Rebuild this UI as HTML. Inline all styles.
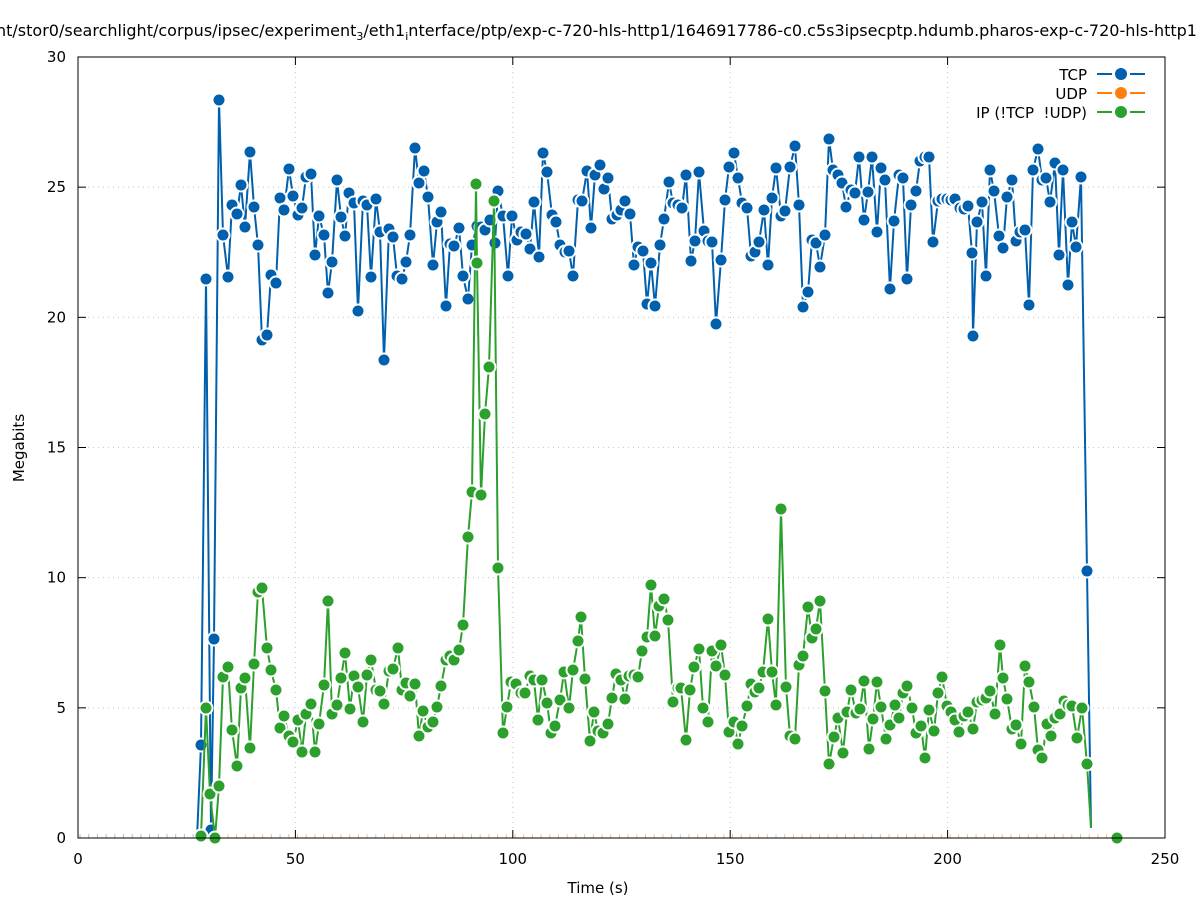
<!DOCTYPE html>
<html><head><meta charset="utf-8"><style>
html,body{margin:0;padding:0;background:#fff;width:1197px;height:900px;overflow:hidden}
svg{display:block;font-family:"DejaVu Sans","Liberation Sans",sans-serif}
</style></head><body>
<svg id="s" width="1197" height="900" viewBox="0 0 1197 900" xmlns="http://www.w3.org/2000/svg">
<rect width="1197" height="900" fill="#fff"/>
<g id="grid" stroke="#c8c8c8" stroke-width="1" stroke-dasharray="1,4"></g>
<g id="ticks" stroke="#000" stroke-width="1"></g>
<g id="labels" font-size="15" fill="#000"></g>
<text x="-4" y="36" font-size="16" fill="#000">nt/stor0/searchlight/corpus/ipsec/experiment<tspan font-size="11" dy="4">3</tspan><tspan dy="-4">/eth1</tspan><tspan font-size="11" dy="4">i</tspan><tspan dy="-4">nterface/ptp/exp-c-720-hls-http1/1646917786-c0.c5s3ipsecptp.hdumb.pharos-exp-c-720-hls-http1.</tspan></text>
<text x="598" y="893" font-size="15" text-anchor="middle">Time (s)</text>
<text transform="translate(24,448) rotate(-90)" font-size="15" text-anchor="middle">Megabits</text>
<g id="udp"></g>
<g id="series"></g>
<rect x="78" y="57" width="1087" height="781" fill="none" stroke="#000" stroke-width="1"/>
<g font-size="15" text-anchor="end">
<text x="1087" y="80">TCP</text>
<text x="1087" y="99">UDP</text>
<text x="1087" y="118">IP (!TCP &#160;!UDP)</text>
</g>
<g stroke-width="2">
<line x1="1097" y1="74" x2="1112" y2="74" stroke="#0060ad"/><line x1="1130" y1="74" x2="1145" y2="74" stroke="#0060ad"/>
<line x1="1097" y1="93" x2="1112" y2="93" stroke="#ff7f0e"/><line x1="1130" y1="93" x2="1145" y2="93" stroke="#ff7f0e"/>
<line x1="1097" y1="112" x2="1112" y2="112" stroke="#2ca02c"/><line x1="1130" y1="112" x2="1145" y2="112" stroke="#2ca02c"/>
</g>
<circle cx="1121" cy="74" r="6" fill="#0060ad"/>
<circle cx="1121" cy="93" r="6" fill="#ff7f0e"/>
<circle cx="1121" cy="112" r="6" fill="#2ca02c"/>
</svg>
<script>
const NS="http://www.w3.org/2000/svg";
function el(p,t,a){const e=document.createElementNS(NS,t);for(const k in a)e.setAttribute(k,a[k]);p.appendChild(e);return e;}
const g=document.getElementById('grid'),tk=document.getElementById('ticks'),lb=document.getElementById('labels');
for(let i=0;i<=5;i++){const x=78+i*217.4;
 if(i>0&&i<5)el(g,'line',{x1:x,y1:57,x2:x,y2:838});
 el(tk,'line',{x1:x,y1:838,x2:x,y2:830});el(tk,'line',{x1:x,y1:57,x2:x,y2:65});
 const t=el(lb,'text',{x:x,y:864,'text-anchor':'middle'});t.textContent=i*50;}
for(let i=0;i<=6;i++){const y=838-i*130.17;
 if(i>0&&i<6)el(g,'line',{x1:78,y1:y,x2:1165,y2:y});
 el(tk,'line',{x1:78,y1:y,x2:86,y2:y});el(tk,'line',{x1:1165,y1:y,x2:1157,y2:y});
 const t=el(lb,'text',{x:66,y:y+5,'text-anchor':'end'});t.textContent=i*5;}
const ud=document.getElementById('udp');
for(let x=80;x<1120;x+=8.7){el(ud,'line',{x1:x,y1:834,x2:x,y2:838,stroke:x<200?'#9ccf9c':'#ffbf80','stroke-width':1});}
const tcp=[[197,838],[201,745],[206,279],[211,830],[214,639],[219,100],[223,235],[228,277],[232,205],[237,214],[241,185],[245,227],[250,152],[254,207],[258,245],[262,340],[267,335],[271,275],[276,283],[280,198],[284,210],[289,169],[293,196],[298,215],[302,208],[306,177],[311,174],[315,255],[319,216],[324,235],[328,293],[332,262],[337,180],[341,217],[345,236],[349,193],[354,203],[358,311],[363,201],[367,205],[371,277],[376,199],[380,232],[384,360],[389,229],[393,237],[397,276],[402,279],[406,262],[410,235],[415,148],[419,183],[424,171],[428,197],[433,265],[437,222],[441,212],[446,306],[450,244],[454,246],[459,228],[463,276],[468,299],[472,245],[477,226],[481,227],[485,230],[490,220],[495,243],[498,191],[503,216],[508,276],[512,216],[517,240],[521,232],[526,234],[530,249],[534,202],[539,257],[543,153],[547,172],[552,215],[556,222],[560,245],[565,252],[569,251],[573,276],[578,200],[582,201],[587,171],[591,228],[595,175],[600,165],[604,189],[608,178],[612,219],[617,215],[621,210],[625,201],[630,214],[634,265],[638,247],[643,251],[647,304],[651,263],[655,306],[660,245],[664,219],[669,182],[673,203],[678,205],[682,208],[686,175],[691,261],[695,241],[699,172],[704,231],[708,241],[712,242],[716,324],[721,260],[725,200],[729,167],[734,153],[738,178],[742,203],[747,208],[751,256],[755,252],[759,242],[764,210],[768,265],[772,198],[776,168],[781,216],[785,211],[790,167],[795,146],[799,205],[803,307],[808,292],[812,240],[816,243],[820,267],[825,235],[829,139],[833,170],[838,175],[842,183],[846,207],[851,190],[855,193],[859,157],[864,220],[868,192],[872,157],[877,232],[881,168],[885,180],[890,289],[894,221],[899,175],[903,178],[907,279],[911,205],[916,191],[920,161],[925,157],[929,157],[933,242],[938,201],[942,199],[947,199],[951,200],[955,199],[960,208],[964,209],[968,206],[972,253],[973,336],[977,222],[982,202],[986,276],[990,170],[994,191],[999,236],[1003,248],[1007,197],[1012,180],[1016,241],[1020,232],[1025,230],[1029,305],[1033,170],[1038,149],[1042,180],[1046,178],[1050,202],[1055,163],[1059,255],[1063,170],[1068,285],[1072,222],[1076,247],[1081,177],[1087,571],[1091,828]];
const ip=[[197,838],[201,836],[206,708],[210,794],[215,838],[219,786],[223,677],[228,667],[232,730],[237,766],[241,688],[245,678],[250,748],[254,664],[258,592],[262,588],[267,648],[271,670],[276,690],[280,728],[284,716],[289,736],[293,742],[298,720],[302,752],[306,714],[311,704],[315,752],[319,724],[324,685],[328,601],[332,714],[337,705],[341,678],[345,653],[350,709],[354,676],[358,687],[363,722],[367,675],[371,660],[376,690],[380,691],[384,704],[389,671],[393,669],[398,648],[402,690],[406,683],[410,696],[415,684],[419,736],[423,711],[428,727],[433,722],[437,707],[441,686],[446,660],[450,656],[454,660],[459,650],[463,625],[468,537],[472,492],[476,184],[477,263],[481,495],[485,414],[489,367],[494,201],[498,568],[503,733],[507,707],[511,682],[516,684],[521,693],[525,693],[530,676],[534,680],[538,720],[542,680],[547,703],[551,733],[555,726],[560,700],[564,672],[569,708],[573,670],[578,641],[581,617],[585,679],[590,741],[594,712],[598,731],[603,733],[608,724],[612,698],[616,674],[621,680],[625,699],[629,676],[634,675],[638,677],[642,651],[647,637],[651,585],[655,636],[659,606],[664,599],[668,620],[673,702],[678,688],[681,688],[686,740],[690,690],[694,667],[699,649],[703,708],[708,722],[712,651],[716,666],[721,645],[725,675],[729,732],[734,722],[738,744],[742,726],[747,706],[751,684],[755,692],[759,688],[763,672],[768,619],[772,672],[776,705],[781,509],[786,687],[790,736],[795,739],[799,665],[803,656],[808,607],[812,638],[816,629],[820,601],[825,691],[829,764],[834,737],[838,718],[843,753],[847,712],[851,690],[856,713],[860,709],[864,681],[869,749],[873,719],[877,682],[881,707],[886,739],[890,725],[895,705],[899,718],[903,693],[907,686],[912,708],[916,733],[921,726],[925,758],[929,710],[934,731],[938,693],[942,677],[947,706],[951,712],[955,720],[959,732],[964,716],[968,712],[973,729],[977,702],[982,700],[986,698],[990,691],[995,714],[1000,645],[1003,678],[1007,699],[1012,729],[1016,725],[1021,744],[1025,666],[1029,682],[1034,707],[1038,750],[1042,758],[1047,724],[1051,736],[1055,718],[1060,714],[1064,701],[1068,705],[1072,706],[1077,738],[1082,708],[1087,764],[1091,828]];
const sg=document.getElementById('series');
function draw(d,c){
 el(sg,'polyline',{points:d.map(p=>p.join(',')).join(' '),fill:'none',stroke:c,'stroke-width':2,'stroke-linejoin':'round'});
 d.forEach((p,i)=>{if(i==0||i==d.length-1)return;el(sg,'circle',{cx:p[0],cy:p[1],r:6.5,fill:c,stroke:'#fff','stroke-width':2});});
}
draw(tcp,'#0060ad');draw(ip,'#2ca02c');
el(sg,'circle',{cx:1117,cy:838,r:6.5,fill:'#2ca02c',stroke:'#fff','stroke-width':2});
el(sg,'circle',{cx:201,cy:836,r:6.5,fill:'#2ca02c',stroke:'#fff','stroke-width':2});
</script>
</body></html>
